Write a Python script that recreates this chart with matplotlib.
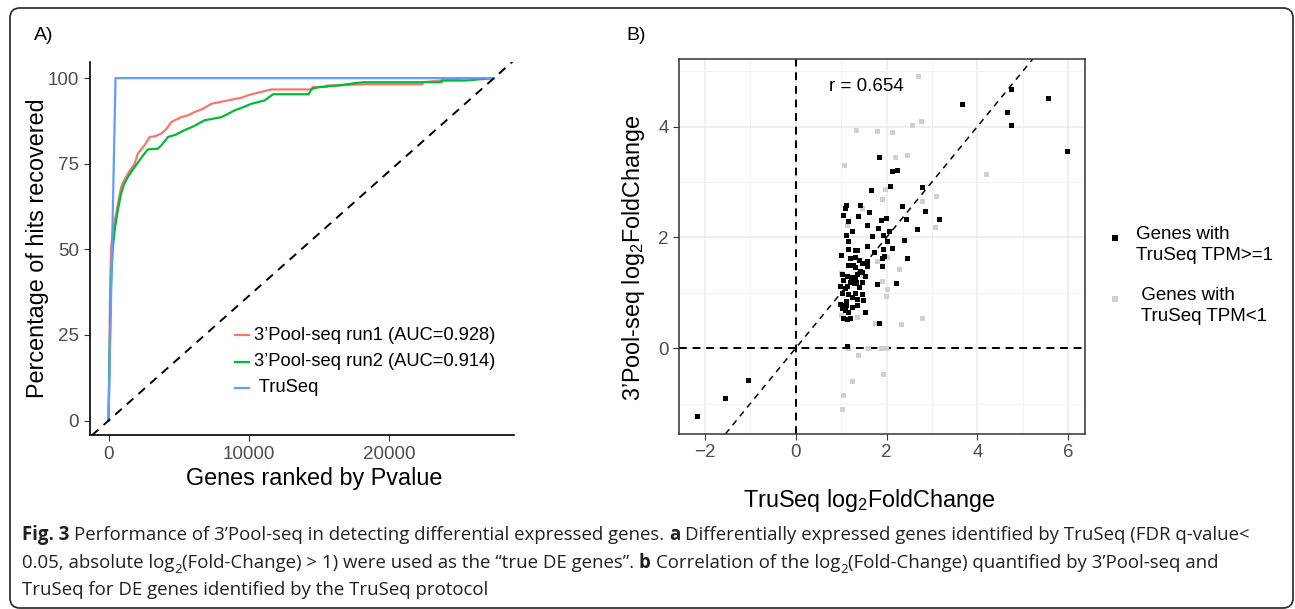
import numpy as np
import matplotlib
matplotlib.use('Agg')
import matplotlib.pyplot as plt
from matplotlib.lines import Line2D
from matplotlib.patches import FancyBboxPatch
from matplotlib.transforms import IdentityTransform

plt.rcParams['font.family'] = ['Liberation Sans', 'DejaVu Sans']
plt.rcParams['mathtext.fontset'] = 'custom'
plt.rcParams['mathtext.rm'] = 'Liberation Sans'
plt.rcParams['mathtext.it'] = 'Liberation Sans:italic'

# ---------------- data: panel A (recovery curves) ----------------
run1_x = [0, 60, 120, 190, 300, 420, 550, 700, 900, 1100, 1380, 1600, 1860, 2100, 2300,
          2570, 2930, 3300, 3760, 4100, 4480, 5190, 5700, 6140, 6700, 7330, 8520, 9500,
          9950, 10700, 11620, 14550, 14550, 15550, 15550, 18170, 22410, 22410, 23760, 25430, 27500]
run1_y = [0, 20, 40, 50.7, 55, 58, 60.5, 64, 68.2, 70, 72.1, 73.5, 75, 78, 79,
          80.4, 82.8, 83, 83.8, 85, 87.2, 88.6, 89.2, 90.1, 91, 92.5, 93.5, 94.3,
          95, 95.8, 96.7, 96.7, 97.4, 97.4, 97.8, 98.2, 98.2, 98.8, 99.3, 100, 100]
run2_x = [0, 80, 180, 310, 450, 660, 900, 1100, 1380, 1600, 1860, 2210, 2570, 2810, 3520,
          3800, 4240, 4800, 5430, 6100, 6860, 8050, 8500, 9000, 9600, 10190, 11140, 11740,
          14280, 14500, 15070, 16500, 17330, 18160, 23760, 23760, 25430, 27500]
run2_y = [0, 20, 40, 50.7, 56, 61.4, 66.3, 69, 71.1, 72.5, 74, 76, 78, 79.2, 79.4,
          80.5, 82.8, 83.5, 84.8, 86, 87.7, 88.6, 89.5, 90.6, 91.5, 92.5, 93.5, 95.3,
          95.3, 96.9, 97.4, 97.9, 98.4, 98.8, 98.8, 99.3, 99.3, 100]
truseq_x = [0, 500, 27500]
truseq_y = [0, 100, 100]
n_genes = 27500
curve_labels = ['3’Pool-seq run1 (AUC=0.928)', '3’Pool-seq run2 (AUC=0.914)', ' TruSeq']
curve_colors = ['#F8766D', '#00BA38', '#619CFF']

# ---------------- data: panel B (log2 fold changes) ----------------
hi_x = [-2.18, -1.55, -1.04, 3.66, 4.74, 4.65, 4.73, 5.56, 5.97, 1.83, 2.11, 2.22, 1.65,
        2.08, 2.77, 1.12,
        1.10, 1.08, 1.41, 1.62, 1.38, 1.05, 1.16, 1.56, 1.87, 1.99, 2.35, 2.42, 2.84, 3.15,
        2.68, 1.82, 2.06, 1.25, 1.10, 1.67, 1.93, 1.16, 2.00, 2.38, 1.16, 1.30, 1.35, 1.56,
        1.93, 2.11, 1.72, 0.99, 1.19, 1.30, 1.40, 1.89, 1.95, 2.44, 1.16, 1.26, 1.30, 1.45,
        1.56, 1.57, 1.91, 1.41, 1.47, 1.01, 1.13, 1.21, 1.31, 1.35, 1.52, 1.05, 1.19, 1.24,
        1.29, 1.32, 1.47, 1.78, 2.21, 0.97, 1.08, 1.12, 1.40, 1.03, 1.16, 1.30, 1.45, 1.34,
        1.23, 1.10, 1.49, 0.97, 1.03, 1.10, 1.34, 1.23, 1.01, 1.09, 1.16, 1.52, 1.05, 1.12,
        1.19, 1.84]
hi_y = [-1.23, -0.90, -0.58, 4.41, 4.67, 4.27, 4.02, 4.52, 3.56, 3.45, 3.19, 3.22, 2.86,
        2.92, 2.91, 0.03,
        2.59, 2.53, 2.58, 2.46, 2.38, 2.40, 2.30, 2.22, 2.32, 2.35, 2.56, 2.34, 2.47, 2.34,
        2.15, 2.17, 2.12, 2.11, 2.05, 2.02, 2.04, 1.93, 1.93, 1.95, 1.79, 1.78, 1.78, 1.84,
        1.79, 1.81, 1.74, 1.69, 1.62, 1.64, 1.60, 1.63, 1.66, 1.62, 1.50, 1.51, 1.47, 1.53,
        1.57, 1.49, 1.48, 1.40, 1.37, 1.33, 1.30, 1.28, 1.28, 1.33, 1.31, 1.23, 1.19, 1.21,
        1.17, 1.20, 1.19, 1.16, 1.18, 1.12, 1.09, 1.12, 1.10, 1.00, 0.98, 1.00, 0.97, 0.89,
        0.93, 0.86, 0.87, 0.80, 0.78, 0.78, 0.78, 0.75, 0.72, 0.69, 0.66, 0.66, 0.55, 0.53,
        0.54, 0.45]
lo_x = [2.70, 2.75, 2.55, 1.33, 1.78, 2.13, 1.07, 2.19, 2.46, 4.18, 1.97, 1.89, 3.10, 2.77,
        1.45, 3.06, 1.12, 2.00, 1.78, 2.28, 1.00, 1.49, 1.89, 2.00, 1.99, 1.34, 1.74, 2.31,
        2.79, 0.99, 1.16, 1.60, 1.88, 1.99, 1.37, 1.93, 1.23, 1.05, 1.01]
lo_y = [4.92, 4.10, 4.03, 3.94, 3.92, 3.91, 3.31, 3.45, 3.49, 3.15, 2.87, 2.70, 2.74, 2.66,
        2.53, 2.18, 2.23, 1.64, 1.57, 1.43, 1.36, 1.30, 1.22, 1.07, 0.95, 0.57, 0.45, 0.44,
        0.54, 0.60, 0.0, 0.0, 0.0, 0.0, -0.12, -0.47, -0.60, -0.84, -1.10]
r_value = 0.654
group_labels = ['Genes with\nTruSeq TPM>=1', ' Genes with\n TruSeq TPM<1']
group_colors = ['black', '#D0D0D0']

W, H = 1295, 609
fig = plt.figure(figsize=(W / 100, H / 100), dpi=100)
fig.patch.set_facecolor('white')

def fx(px):
    return px / W

def fy(py):
    return 1 - py / H

tick_col = '#4D4D4D'

# ---------------- panel A ----------------
axA = fig.add_axes([fx(89.5), fy(435.3), fx(514 - 89.5), (435.3 - 61.7) / H])
for xs, ys, c in zip([run1_x, run2_x, truseq_x], [run1_y, run2_y, truseq_y], curve_colors):
    axA.plot(xs, ys, color=c, lw=1.6)
axA.axline((0, 0), slope=100 / n_genes, color='black', ls=(0, (4.5, 3.5)), lw=1.4)
axA.set_xlim(-1357, 28930)
axA.set_ylim(-4.3, 104.8)
axA.set_xticks([0, 10000, 20000])
axA.set_yticks([0, 25, 50, 75, 100])
axA.spines['top'].set_visible(False)
axA.spines['right'].set_visible(False)
for s in ['left', 'bottom']:
    axA.spines[s].set_linewidth(1.2)
axA.tick_params(colors='#333333', labelcolor=tick_col, labelsize=13.5, length=4, width=0.8)
axA.set_xlabel('Genes ranked by Pvalue', fontsize=16.8)
axA.set_ylabel('Percentage of hits recovered', fontsize=16.8)
axA.xaxis.set_label_coords(0.529, -0.085)
axA.yaxis.set_label_coords(-0.095, 0.5)

# legend A
for i, (lab, c) in enumerate(zip(curve_labels, curve_colors)):
    yy = [335, 362, 388][i]
    fig.add_artist(Line2D([fx(235), fx(249)], [fy(yy), fy(yy)], color=c, lw=1.6))
    fig.text(fx(254), fy(yy), lab, fontsize=13.2, va='center', ha='left')

# ---------------- panel B ----------------
axB = fig.add_axes([fx(679), fy(434), fx(1085 - 679), (434 - 59) / H])
axB.set_facecolor('white')
axB.plot(lo_x, lo_y, 's', color=group_colors[1], ms=3.6, mew=0, zorder=3)
axB.plot(hi_x, hi_y, 's', color=group_colors[0], ms=3.6, mew=0, zorder=4)
axB.axvline(0, color='black', ls=(0, (4, 3)), lw=1.4, zorder=2)
axB.axhline(0, color='black', ls=(0, (4, 3)), lw=1.4, zorder=2)
axB.axline((0, 0), slope=1, color='black', ls=(0, (4, 3.5)), lw=1.1, zorder=2)
axB.set_xlim(-2.57, 6.37)
axB.set_ylim(-1.55, 5.22)
axB.set_xticks([-2, 0, 2, 4, 6])
axB.set_xticklabels(['\u22122', '0', '2', '4', '6'])
axB.set_yticks([0, 2, 4])
axB.set_xticks([-1, 1, 3, 5], minor=True)
axB.set_yticks([-1, 1, 3, 5], minor=True)
axB.grid(True, which='major', color='#EBEBEB', lw=1.1, zorder=0)
axB.grid(True, which='minor', color='#F2F2F2', lw=0.7, zorder=0)
axB.set_axisbelow(True)
for s in axB.spines.values():
    s.set_color('#333333')
    s.set_linewidth(1.1)
axB.tick_params(which='major', colors='#333333', labelcolor=tick_col, labelsize=13.5, length=4, width=0.8)
axB.tick_params(which='minor', length=0)
axB.set_xlabel('TruSeq log$_2$FoldChange', fontsize=16.8)
axB.set_ylabel('3’Pool-seq log$_2$FoldChange', fontsize=16.8)
axB.xaxis.set_label_coords(0.468, -0.14)
axB.yaxis.set_label_coords(-0.078, 0.47)
axB.text(1.55, 4.73, f'r = {r_value}', fontsize=13.5, ha='center', va='center')

# legend B
for i, (lab, c) in enumerate(zip(group_labels, group_colors)):
    ky = [238, 299][i]
    ty = [245, 306][i]
    fig.add_artist(Line2D([fx(1115)], [fy(ky)], marker='s', color=c, ms=3.8, mew=0, ls='none'))
    fig.text(fx(1136), fy(ty), lab, fontsize=13.5, va='center', ha='left', linespacing=1.25)

# panel letters
fig.text(fx(34), fy(35), 'A)', fontsize=14, va='center')
fig.text(fx(626), fy(35), 'B)', fontsize=14, va='center')

# outer rounded frame
frame = FancyBboxPatch((10, 1), 1283, 600, boxstyle='round,pad=0,rounding_size=10',
                       transform=IdentityTransform(), fill=False, ec='#333333', lw=1.3)
fig.add_artist(frame)

# ---------------- caption ----------------
cap_font = ['Open Sans', 'DejaVu Sans']
cap_col = '#231F20'
caption = [
    [('Fig. 3', 'b'), (' Performance of 3’Pool-seq in detecting differential expressed genes. ', 'n'),
     ('a', 'b'), (' Differentially expressed genes identified by TruSeq (FDR q-value<', 'n')],
    [('0.05, absolute log', 'n'), ('2', 's'), ('(Fold-Change) > 1) were used as the “true DE genes”. ', 'n'),
     ('b', 'b'), (' Correlation of the log', 'n'), ('2', 's'),
     ('(Fold-Change) quantified by 3’Pool-seq and', 'n')],
    [('TruSeq for DE genes identified by the TruSeq protocol', 'n')],
]
renderer = fig.canvas.get_renderer()

def text_width(s, size, weight='normal'):
    t = fig.text(0, 0, s, fontsize=size, family=cap_font, fontweight=weight)
    w = t.get_window_extent(renderer).width
    t.remove()
    return w

def write_line(x0, y0, runs, size, draw=True):
    space = text_width('a a', size) - text_width('aa', size)
    x = x0
    for txt, st in runs:
        sz = size * 0.7 if st == 's' else size
        wt = 'bold' if st == 'b' else 'normal'
        lead = len(txt) - len(txt.lstrip(' '))
        trail = len(txt) - len(txt.rstrip(' '))
        core = txt.strip(' ')
        x += lead * space
        dy = size * 0.3 * 100 / 72 if st == 's' else 0
        if draw:
            t = fig.text(fx(x), fy(y0 + dy), core, fontsize=sz, fontweight=wt, family=cap_font,
                         color=cap_col, va='baseline', ha='left')
            x += t.get_window_extent(renderer).width
        else:
            x += text_width(core, sz, wt)
        x += trail * space
    return x - x0

w10 = write_line(22, 540, caption[0], 10, draw=False)
cap_size = 10 * (1253 - 22) / w10
for k, runs in enumerate(caption):
    write_line(22, 540 + 27.5 * k, runs, cap_size)

fig.savefig('out.png', dpi=100, facecolor='white')
